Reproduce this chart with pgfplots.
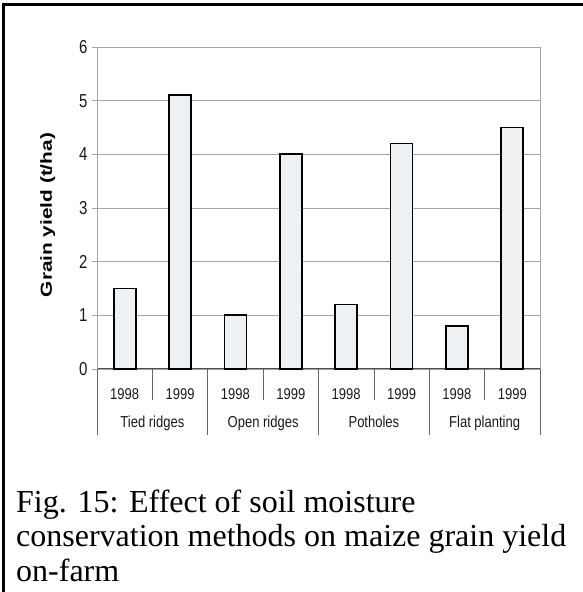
\documentclass[border=0pt]{standalone}
\usepackage{pgfplots}
\pgfplotsset{compat=1.18}
\usepackage{fontspec}
\setmainfont{Liberation Serif}
\newfontfamily\arial{Liberation Sans}
\definecolor{barfill}{HTML}{EEF1F4}
\definecolor{gridc}{HTML}{A8A2A8}
\begin{document}
\begin{tikzpicture}[x=1bp,y=1bp]
\useasboundingbox (0,0) rectangle (583,592);
\draw[line width=3bp] (3,0) -- (3,587) -- (583,587);
\begin{axis}[
  at={(97bp,223bp)}, anchor=south west,
  scale only axis, width=443bp, height=322bp,
  xmin=-0.5, xmax=7.5, ymin=0, ymax=6,
  ybar, bar width=22bp,
  /pgf/number format/assume math mode=true,
  ytick={0,1,2,3,4,5,6},
  yticklabels={0,1,2,3,4,5,6},
  xtick={0,1,2,3,4,5,6,7},
  xticklabels={1998,1999,1998,1999,1998,1999,1998,1999},
  x tick style={draw=none},
  y tick style={draw=gridc, line width=0.8pt},
  tick align=outside, major tick length=5bp,
  ymajorgrids, grid style={gridc, line width=0.8pt},
  axis x line*=bottom, axis y line*=left,
  y axis line style={gridc, line width=0.9pt, -},
  x axis line style={black!70, line width=1pt, -},
  yticklabel style={font=\arial\fontsize{15bp}{17bp}\selectfont, text=black!90, xshift=-1bp, yscale=1.25},
  xticklabel style={font=\arial\fontsize{13bp}{15bp}\selectfont, text=black!90, anchor=base, yshift=-26bp, yscale=1.2},
  every axis y label/.style={at={(axis description cs:-0.111,0.478)}, rotate=90, anchor=center},
  ylabel={\arial\bfseries\fontsize{16bp}{18bp}\selectfont\scalebox{1.3}[1]{Grain yield (t/ha)}},
  clip=false,
]
\addplot[fill=barfill, draw=black, line width=1.8pt] coordinates {
  (0,1.5) (1,5.1) (2,1.0) (3,4.0) (4,1.2) (5,4.2) (6,0.8) (7,4.5)};
\draw[gridc, line width=0.9pt] (axis cs:7.5,0) -- (axis cs:7.5,6);
\pgfplotsinvokeforeach{0.5,2.5,4.5,6.5}{
  \draw[black!60, line width=0.7pt] (axis cs:#1,0) -- ([yshift=-31bp]axis cs:#1,0);
}
\pgfplotsinvokeforeach{-0.5,1.5,3.5,5.5,7.5}{
  \draw[black!60, line width=0.7pt] (axis cs:#1,0) -- ([yshift=-66bp]axis cs:#1,0);
}
\node[anchor=base, font=\arial\fontsize{13bp}{15bp}\selectfont, text=black!90] at ([yshift=-59bp]axis cs:0.5,0) {\scalebox{1}[1.22]{Tied ridges}};
\node[anchor=base, font=\arial\fontsize{13bp}{15bp}\selectfont, text=black!90] at ([yshift=-59bp]axis cs:2.5,0) {\scalebox{1}[1.22]{Open ridges}};
\node[anchor=base, font=\arial\fontsize{13bp}{15bp}\selectfont, text=black!90] at ([yshift=-59bp]axis cs:4.5,0) {\scalebox{1}[1.22]{Potholes}};
\node[anchor=base, font=\arial\fontsize{13bp}{15bp}\selectfont, text=black!90] at ([yshift=-59bp]axis cs:6.5,0) {\scalebox{1}[1.22]{Flat planting}};
\end{axis}
\node[anchor=base west, font=\fontsize{32bp}{34bp}\selectfont, inner sep=0] at (16,79) {Fig. 15: Effect of soil moisture};
\node[anchor=base west, font=\fontsize{32bp}{34bp}\selectfont, inner sep=0] at (16,45) {conservation methods on maize grain yield};
\node[anchor=base west, font=\fontsize{32bp}{34bp}\selectfont, inner sep=0] at (16,10) {on-farm};
\end{tikzpicture}
\end{document}
